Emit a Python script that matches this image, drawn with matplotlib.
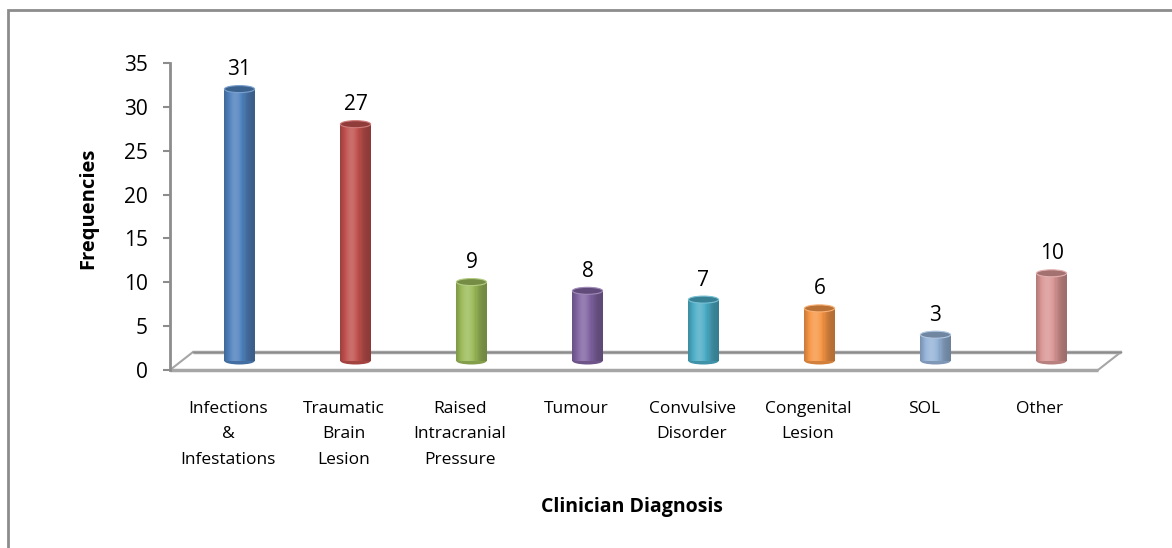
import numpy as np
import matplotlib
matplotlib.use("Agg")
import matplotlib.pyplot as plt
from matplotlib import transforms
from matplotlib.patches import Ellipse, Rectangle
from matplotlib.colors import to_rgb

categories = ["Infections\n&\nInfestations", "Traumatic\nBrain\nLesion",
              "Raised\nIntracranial\nPressure", "Tumour", "Convulsive\nDisorder",
              "Congenital\nLesion", "SOL", "Other"]
frequencies = [31, 27, 9, 8, 7, 6, 3, 10]
bar_colors = ["#4F81BD", "#C0504D", "#9BBB59", "#8064A2",
              "#4BACC6", "#F79646", "#95B3D7", "#D99694"]
y_ticks = [0, 5, 10, 15, 20, 25, 30, 35]

plt.rcParams["font.family"] = ["Open Sans", "DejaVu Sans"]

fig = plt.figure(figsize=(11.72, 5.48), dpi=100)
ax = fig.add_axes([170 / 1172, 178 / 548, 928 / 1172, 307 / 548])
ax.set_xlim(0, len(categories))
ax.set_ylim(0, 35)
for s in ["top", "right", "bottom"]:
    ax.spines[s].set_visible(False)
ax.spines["left"].set_color("#8c8c8c")
ax.spines["left"].set_linewidth(2)
ax.set_yticks(y_ticks)
ax.tick_params(axis="y", length=5, width=1.5, color="#8c8c8c", labelsize=15, pad=11)
ax.set_xticks(np.arange(len(categories)) + 0.5)
ax.set_xticklabels(categories, fontsize=12.5, linespacing=1.8, va="top")
ax.tick_params(axis="x", length=0, pad=22)

# depth of the floor (pixels) and the plane the cylinders stand on
depth_x, depth_y = 23 / 100, 18 / 100
back = ax.transData + transforms.ScaledTranslation(depth_x, depth_y, fig.dpi_scale_trans)
mid = ax.transData + transforms.ScaledTranslation(depth_x / 2, depth_y / 2, fig.dpi_scale_trans)

n = len(categories)
floor_kw = dict(color="#a6a6a6", lw=2.5, clip_on=False, solid_capstyle="butt", zorder=0.5)
ax.plot([0, n], [0, 0], **floor_kw)
ax.plot([0, n], [0, 0], transform=back, **floor_kw)
ax.plot([0, n], [0, 0], transform=back, color="#8c8c8c", lw=1, clip_on=False, zorder=0.6)
inv = ax.transData.inverted()
for xe in (0, n):
    a = inv.transform(ax.transData.transform((xe, 0)))
    b = inv.transform(back.transform((xe, 0)))
    ax.plot([a[0], b[0]], [a[1], b[1]], color="#a6a6a6", lw=1.5, clip_on=False, zorder=0.5)


def shade(c, f):
    c = np.array(to_rgb(c))
    if f >= 1:
        return tuple(c + (1 - c) * (f - 1))
    return tuple(c * f)


bar_w = 0.26
ell_h = 0.8
slices = 30
t = (np.arange(slices) + 0.5) / slices
profile = 0.72 + 0.45 * np.exp(-((t - 0.38) / 0.3) ** 2)

for i, (v, col) in enumerate(zip(frequencies, bar_colors)):
    xc = i + 0.5
    xs = xc - bar_w / 2 + t * bar_w
    shades = [shade(col, f) for f in profile]
    # rounded base of the cylinder
    ax.add_patch(Ellipse((xc, 0), bar_w, ell_h, facecolor=shade(col, 0.85),
                         edgecolor="none", transform=mid, clip_on=False, zorder=1))
    ax.bar(xs, v, width=bar_w / slices * 1.05, color=shades, edgecolor="none",
           transform=mid, clip_on=False, zorder=1)
    # top face
    ax.add_patch(Ellipse((xc, v), bar_w, ell_h, facecolor=shade(col, 0.75),
                         edgecolor=shade(col, 1.25), lw=0.8, transform=mid,
                         clip_on=False, zorder=1.1))
    ax.annotate(str(v), (xc, v), xycoords=mid, xytext=(0, 10),
                textcoords="offset points", ha="center", va="baseline", fontsize=15)

fig.text(88 / 1172, 1 - 208 / 548, "Frequencies", rotation=90, ha="center",
         va="center", fontsize=14.5, fontweight="bold")
fig.text(632 / 1172, 1 - 507 / 548, "Clinician Diagnosis", ha="center",
         va="center", fontsize=14, fontweight="bold")

# chart area border (runs off the right and bottom edges)
fig.patches.append(Rectangle((8 / 1172, -0.1), 1.2, 1.1 - 10 / 548, transform=fig.transFigure,
                             fill=False, edgecolor="#8c8c8c", lw=2))

fig.savefig("out.png", dpi=100)
